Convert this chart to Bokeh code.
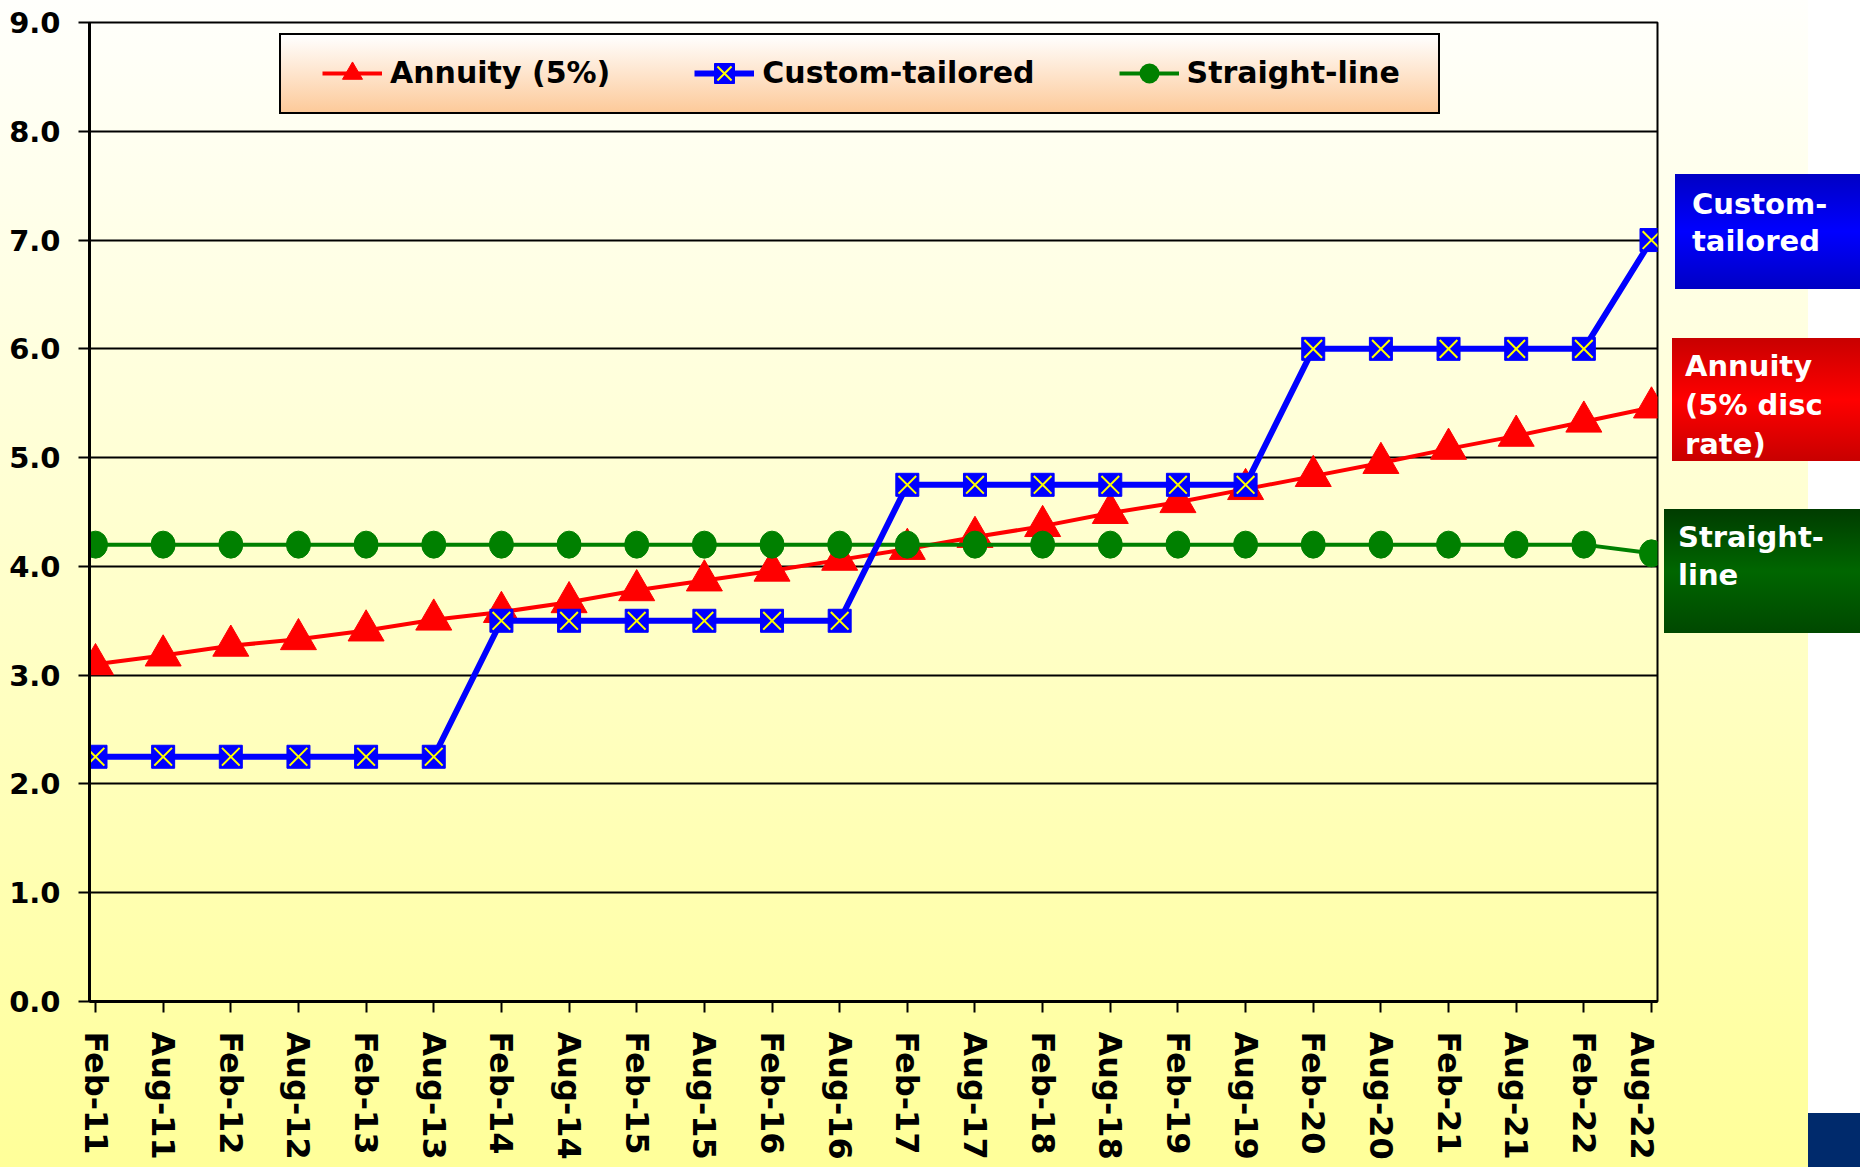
from bokeh.plotting import figure
from bokeh.models import FixedTicker, Legend, LegendItem, Div
from bokeh.layouts import row
from bokeh.embed import file_html
from bokeh.resources import INLINE

# ---------------- data ----------------
periods = ["Feb-11", "Aug-11", "Feb-12", "Aug-12", "Feb-13", "Aug-13",
           "Feb-14", "Aug-14", "Feb-15", "Aug-15", "Feb-16", "Aug-16",
           "Feb-17", "Aug-17", "Feb-18", "Aug-18", "Feb-19", "Aug-19",
           "Feb-20", "Aug-20", "Feb-21", "Aug-21", "Feb-22", "Aug-22"]
annuity = [3.10, 3.18, 3.27, 3.33, 3.41, 3.51, 3.58, 3.67, 3.78, 3.87, 3.96, 4.06,
           4.16, 4.27, 4.37, 4.49, 4.59, 4.71, 4.83, 4.95, 5.08, 5.20, 5.33, 5.46]
custom = [2.25, 2.25, 2.25, 2.25, 2.25, 2.25, 3.5, 3.5, 3.5, 3.5, 3.5, 3.5,
          4.75, 4.75, 4.75, 4.75, 4.75, 4.75, 6.0, 6.0, 6.0, 6.0, 6.0, 7.0]
straight = [4.2] * 23 + [4.12]
y_ticks = [0, 1, 2, 3, 4, 5, 6, 7, 8, 9]
y_tick_labels = ["0.0", "1.0", "2.0", "3.0", "4.0", "5.0", "6.0", "7.0", "8.0", "9.0"]
series_names = ["Annuity (5%)", "Custom-tailored", "Straight-line"]
side_labels_custom = ["Custom-", "tailored"]
side_labels_annuity = ["Annuity", "(5% disc", "rate)"]
side_labels_straight = ["Straight-", "line"]

xs = list(range(len(periods)))
FONT = "DejaVu Sans"

W, H = 1860, 1167
PW = 1660                              # width of the figure part
FL, FR, FT, FB = 89, 1657, 22, 1001    # frame edges in page pixels
X0, X1 = -0.0887, 23.0887

p = figure(width=PW, height=H, output_backend="svg", toolbar_location=None,
           x_range=(X0, X1), y_range=(0, 9),
           min_border_left=FL, min_border_right=PW - FR,
           min_border_top=FT, min_border_bottom=H - FB, margin=0)

p.background_fill_alpha = 0
p.border_fill_alpha = 0
p.outline_line_color = "black"
p.outline_line_width = 2

GRAD = "linear-gradient(#fffffc, #ffff99) 0px 0px / 100% 100% no-repeat"
p.styles = {"background": ", ".join([
    "linear-gradient(#ffffff, #fdca9a) 281px 35px / 1157px 77px no-repeat",
    "linear-gradient(#000000, #000000) 279px 33px / 1161px 81px no-repeat",
    GRAD,
])}

# grid
p.xgrid.visible = False
p.ygrid.grid_line_color = "black"
p.ygrid.grid_line_width = 2
p.ygrid.ticker = FixedTicker(ticks=y_ticks)

# axes
p.yaxis.ticker = FixedTicker(ticks=y_ticks)
p.yaxis.major_label_overrides = {t: l for t, l in zip(y_ticks, y_tick_labels)}
p.xaxis.ticker = FixedTicker(ticks=xs)
p.xaxis.major_label_overrides = {i: l for i, l in zip(xs, periods)}
p.xaxis.major_label_orientation = "vertical"
for ax in (p.xaxis, p.yaxis):
    ax.axis_line_color = "black"
    ax.axis_line_width = 3
    ax.major_tick_line_color = "black"
    ax.major_tick_line_width = 2
    ax.major_tick_out = 11
    ax.major_tick_in = 0
    ax.minor_tick_line_color = None
    ax.major_label_text_font = FONT
    ax.major_label_text_font_style = "bold"
    ax.major_label_text_color = "black"
p.yaxis.major_label_text_font_size = "29px"
p.yaxis.major_label_standoff = 18
p.xaxis.major_label_text_font_size = "32px"
p.xaxis.major_label_standoff = 19

# series: annuity (bottom)
r_line = p.line(xs, annuity, line_color="#ff0000", line_width=4)
r_tri = p.scatter(xs, annuity, marker="triangle", size=36,
                  fill_color="#ff0000", line_color="#ff0000", line_width=1)

# straight-line
g_line = p.line(xs, straight, line_color="#008000", line_width=4)
p.ellipse(xs, straight, width=24, height=27, width_units="screen",
          height_units="screen", fill_color="#008000", line_color="#008000")
g_leg = p.scatter(xs, straight, marker="circle", size=0,
                  fill_color="#008000", line_color=None)

# custom-tailored (top)
b_line = p.line(xs, custom, line_color="#0000ff", line_width=6)
b_sq = p.scatter(xs, custom, marker="square", size=23,
                 fill_color="#0000ff", line_color="#0000ff", line_width=1)
b_x = p.scatter(xs, custom, marker="x", size=25,
                line_color="#ffff00", line_width=2)

legend = Legend(items=[
    LegendItem(label=series_names[0], renderers=[r_line, r_tri]),
    LegendItem(label=series_names[1], renderers=[b_line, b_sq, b_x]),
    LegendItem(label=series_names[2], renderers=[g_line, g_leg]),
], orientation="horizontal", location=(223, 893.5), padding=10, spacing=84,
    glyph_width=60, glyph_height=50, label_standoff=8, margin=0,
    background_fill_alpha=0, border_line_alpha=0,
    label_text_font=FONT, label_text_font_style="bold",
    label_text_font_size="30px", label_text_color="black")
p.add_layout(legend)

# ---------------- right-hand side panel with coloured labels ----------------
SW = W - PW


def box_html(lines, left, top, line_h):
    return ('<div style="position:absolute; left:%dpx; top:%.1fpx; color:white; '
            'font-family:\'DejaVu Sans\'; font-weight:bold; font-size:29px; '
            'line-height:%dpx; white-space:nowrap;">%s</div>'
            % (left, top, line_h, "<br>".join(lines)))


side_html = ('<div style="position:relative; width:%dpx; height:%dpx;">' % (SW, H)
             + box_html(side_labels_custom, 1692 - PW, 204 - 18.5, 37)
             + box_html(side_labels_annuity, 1685 - PW, 366 - 19.5, 39)
             + box_html(side_labels_straight, 1678 - PW, 537 - 19, 38)
             + '</div>')

side = Div(text=side_html, width=SW, height=H, margin=0, styles={
    "background": ", ".join([
        "linear-gradient(#002a6c, #002a6c) %dpx 1113px / 52px 54px no-repeat" % (1808 - PW),
        "linear-gradient(#0000c4, #0000ff 50%%, #0000c4) %dpx 174px / 185px 115px no-repeat" % (1675 - PW),
        "linear-gradient(#c80000, #ff0000 50%%, #c80000) %dpx 338px / 188px 123px no-repeat" % (1672 - PW),
        "linear-gradient(#003c00, #006600 50%%, #004800) %dpx 509px / 196px 124px no-repeat" % (1664 - PW),
        "linear-gradient(#ffffff, #ffffff) %dpx 0px / 52px 100%% no-repeat" % (1808 - PW),
        GRAD,
    ]),
    "overflow": "hidden",
})

layout = row(p, side, spacing=0)
open("out.html", "w").write(file_html(layout, INLINE))
